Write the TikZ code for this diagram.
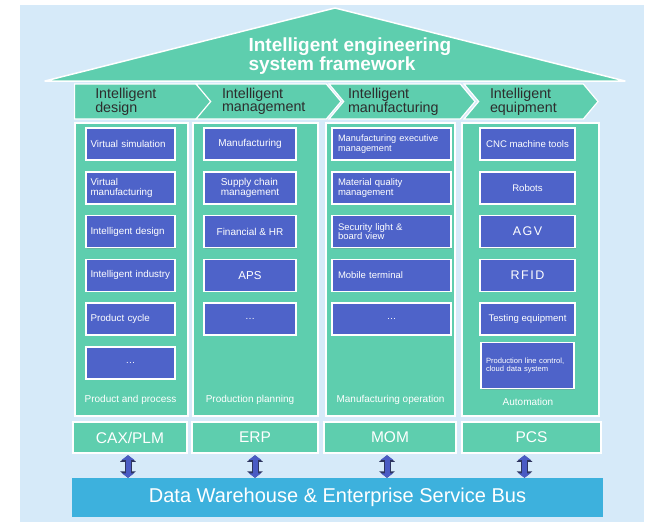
\documentclass[tikz,border=0pt]{standalone}
\usepackage{fontspec}
\setmainfont{Liberation Sans}
\usetikzlibrary{positioning,shapes.symbols,shadows,arrows.meta}
\definecolor{skyback}{RGB}{214,234,249}
\definecolor{mint}{RGB}{94,206,174}
\definecolor{boxblue}{RGB}{78,99,201}
\definecolor{busblue}{RGB}{61,177,221}
\definecolor{arrowblue}{RGB}{74,91,196}
\definecolor{darknavy}{RGB}{46,53,96}
\definecolor{chevtext}{RGB}{45,45,45}

\begin{document}
\begin{tikzpicture}[x=1pt,y=-1pt,node distance=10.3pt,
    col/.style={rectangle,draw=white,line width=1.2pt,fill=mint,minimum height=293pt,
        drop shadow={shadow xshift=1pt,shadow yshift=-1pt,opacity=.25}},
    chev/.style={signal,signal to=east,signal pointer angle=100,draw=white,line width=1.2pt,
        fill=mint,minimum height=35pt,inner sep=0pt,align=left,text=chevtext,
        font=\fontsize{14.3}{13}\selectfont},
    item/.style={rectangle,draw=white,line width=1.5pt,fill=boxblue,text=white,align=left,
        minimum height=32pt,inner ysep=2pt,font=\fontsize{10}{10.5}\selectfont,
        drop shadow={shadow xshift=1pt,shadow yshift=-1pt,opacity=.3}},
    dbox/.style={item,inner xsep=4.5pt,text width=80pt,font=\fontsize{9.8}{10.3}\selectfont},
    mbox/.style={item,minimum width=92pt},
    fbox/.style={item,inner xsep=6pt,text width=107pt,font=\fontsize{9.5}{9.8}\selectfont},
    ebox/.style={item,minimum width=95pt,font=\fontsize{9.6}{10}\selectfont},
    foot/.style={text=white,font=\fontsize{10}{10}\selectfont},
    sysbox/.style={rectangle,draw=white,line width=1.5pt,fill=mint,text=white,
        minimum height=31pt,font=\fontsize{15.5}{15.5}\selectfont,
        drop shadow={shadow xshift=1pt,shadow yshift=-1pt,opacity=.25}},
    busarrow/.style={line width=5pt,draw=arrowblue,shorten <=1.5pt,
        {Triangle[width=12pt,length=4.5pt]}-{Triangle[width=12pt,length=4.5pt]},
        preaction={draw=darknavy,line width=7pt,
        {Triangle[width=15.5pt,length=6.5pt]}-{Triangle[width=15.5pt,length=6.5pt]}}}]

    \useasboundingbox (0,0) rectangle (657,522);
    \fill[skyback] (20,5) rectangle (644,522);

    % Roof with title
    \draw[fill=mint,draw=white,line width=1.5pt,line join=round] (45,81) -- (335,8) -- (625,81) -- cycle;
    \node[anchor=north west,align=left,text=white,font=\fontsize{19}{17}\selectfont\bfseries] (ttl) at (245,34) {Intelligent engineering\\system framework};

    % Chevrons
    \node[chev,anchor=west,minimum width=137pt,text width=81pt] (ch1) at (74,101.5) {Intelligent\\design};
    \node[chev,signal from=west,minimum width=145pt,text width=93pt] (ch2) at (268.5,101.5) {Intelligent\\management};
    \node[chev,signal from=west,minimum width=146pt,text width=108pt] (ch3) at (402,101.5) {Intelligent\\manufacturing};
    \node[chev,signal from=west,minimum width=134pt,text width=82pt] (ch4) at (531,101.5) {Intelligent\\equipment};

    % Columns
    \node[col,minimum width=113pt] (designcol) at (131.5,269.5) {};
    \node[col,minimum width=125pt] (mgmtcol) at (255.5,269.5) {};
    \node[col,minimum width=129pt] (mfgcol) at (390.5,269.5) {};
    \node[col,minimum width=137pt] (equipcol) at (530.5,269.5) {};

    % Intelligent design
    \node[dbox] (vsim) at (130.5,144) {Virtual simulation};
    \node[dbox,below=of vsim] (vman) {Virtual\\manufacturing};
    \node[dbox,below=of vman] (idesign) {Intelligent design};
    \node[dbox,below=of idesign] (iind) {Intelligent industry};
    \node[dbox,below=of iind] (pcycle) {Product cycle};
    \node[dbox,align=center,below=of pcycle] (dmore) {\dots};
    \node[foot] (dfoot) at (130.5,400) {Product and process};

    % Intelligent management
    \node[mbox] (manu) at (250,144) {Manufacturing};
    \node[mbox,below=of manu] (scm) {Supply chain\\management};
    \node[mbox,below=of scm] (fin) {Financial \& HR};
    \node[mbox,below=of fin,font=\fontsize{11.5}{11.5}\selectfont] (aps) {APS};
    \node[mbox,below=of aps] (mmore) {\dots};
    \node[foot] (mfoot) at (250,400) {Production planning};

    % Intelligent manufacturing
    \node[fbox,font=\fontsize{9.2}{9.3}\selectfont] (mes) at (391.5,144) {Manufacturing executive\\management};
    \node[fbox,below=of mes] (mqm) {Material quality\\management};
    \node[fbox,below=of mqm] (sec) {Security light \&\\board view};
    \node[fbox,below=of sec] (mob) {Mobile terminal};
    \node[fbox,align=center,below=of mob] (fmore) {\dots};
    \node[foot] (ffoot) at (390.5,400) {Manufacturing operation};

    % Intelligent equipment
    \node[ebox] (cnc) at (527.5,144) {CNC machine tools};
    \node[ebox,below=of cnc] (robots) {Robots};
    \node[ebox,below=of robots,font=\fontsize{12.5}{12.5}\selectfont\addfontfeature{LetterSpace=12}] (agv) {AGV};
    \node[ebox,below=of agv,font=\fontsize{12.5}{12.5}\selectfont\addfontfeature{LetterSpace=12}] (rfid) {RFID};
    \node[ebox,below=of rfid] (test) {Testing equipment};
    \node[item,below=6pt of test,minimum height=46pt,inner xsep=5pt,text width=83pt,
        font=\fontsize{7.6}{8.5}\selectfont] (plc) {Production line control,\\cloud data system};
    \node[foot] (efoot) at (528,402) {Automation};

    % Systems and bus
    \node[sysbox,minimum width=114pt] (cax) at (130,437.5) {CAX/PLM};
    \node[sysbox,minimum width=126pt] (erp) at (255,437.5) {ERP};
    \node[sysbox,minimum width=132pt] (mom) at (390,437.5) {MOM};
    \node[sysbox,minimum width=139pt] (pcs) at (531.5,437.5) {PCS};
    \node[rectangle,fill=busblue,minimum width=531pt,minimum height=39pt,text=white,
        font=\fontsize{20}{20}\selectfont] (bus) at (337.5,497.5) {Data Warehouse \& Enterprise Service Bus};

    \draw[busarrow] ([xshift=-2pt]cax.south) -- ([xshift=-2pt]cax.south |- bus.north);
    \draw[busarrow] (erp.south) -- (erp.south |- bus.north);
    \draw[busarrow] ([xshift=-3pt]mom.south) -- ([xshift=-3pt]mom.south |- bus.north);
    \draw[busarrow] ([xshift=-7pt]pcs.south) -- ([xshift=-7pt]pcs.south |- bus.north);
\end{tikzpicture}
\end{document}
